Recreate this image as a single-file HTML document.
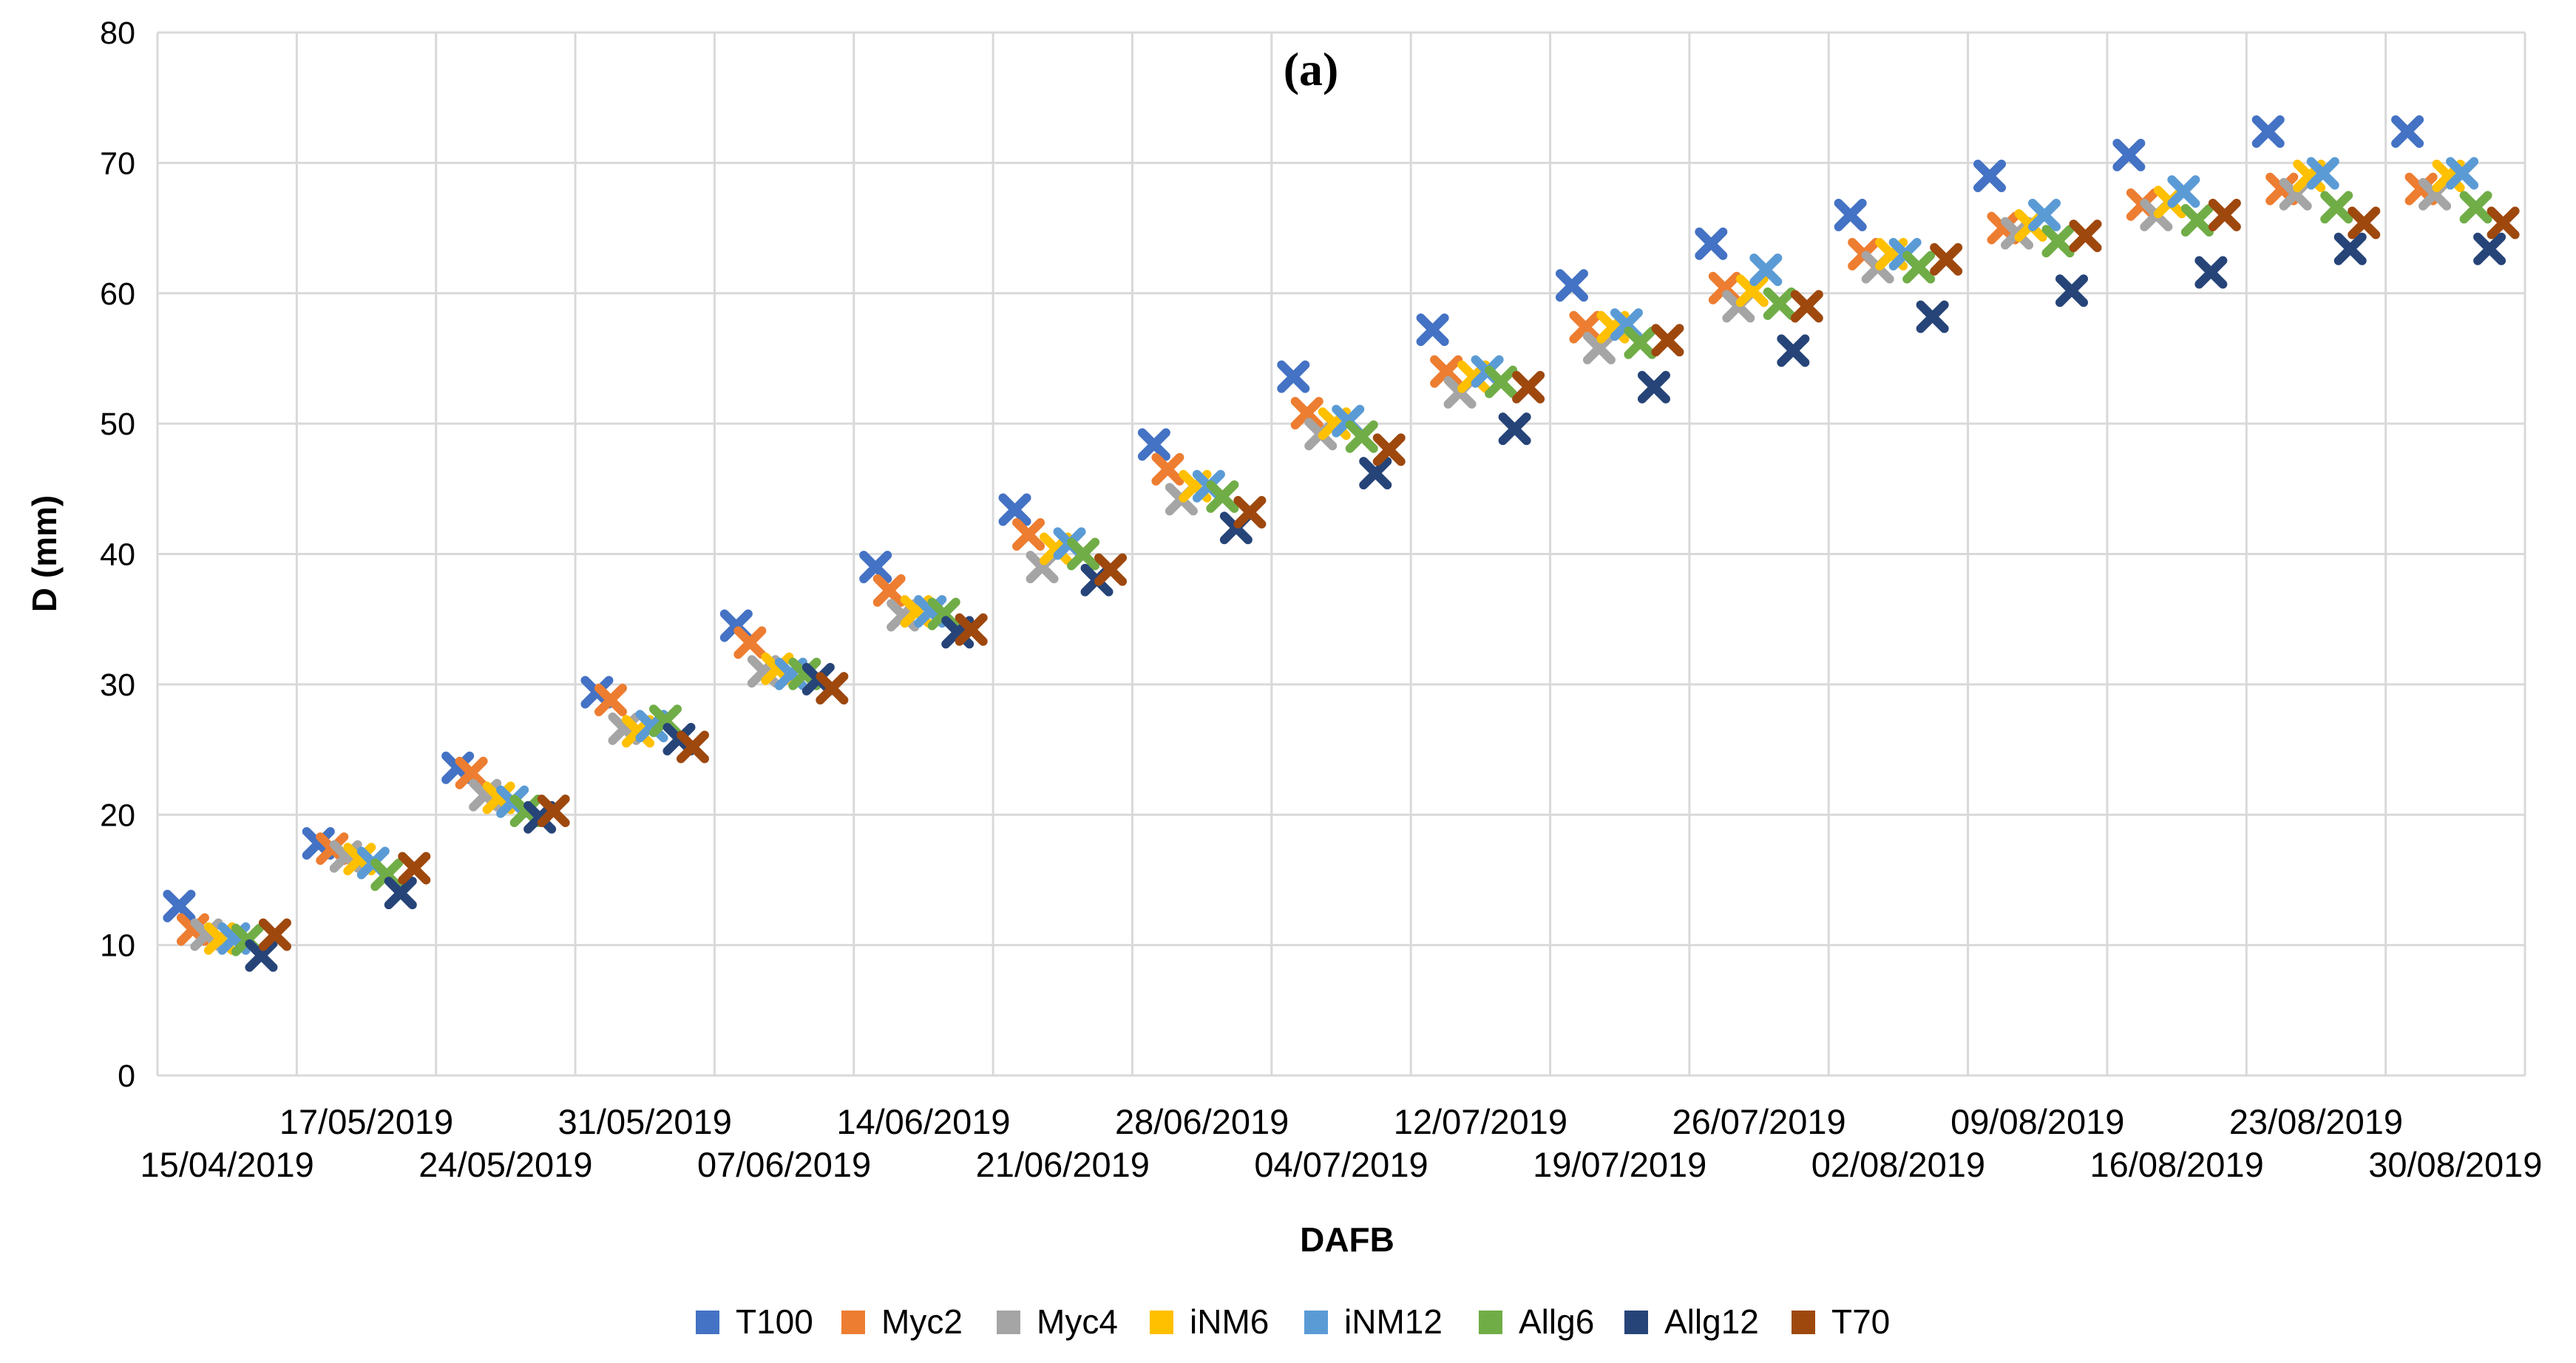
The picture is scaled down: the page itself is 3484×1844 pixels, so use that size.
<!DOCTYPE html>
<html><head><meta charset="utf-8"><style>
html,body{margin:0;padding:0;background:#fff;}
svg{display:block;font-family:"Liberation Sans",sans-serif;}
</style></head><body>
<svg id="chart" width="3484" height="1844" viewBox="0 0 3484 1844" xmlns="http://www.w3.org/2000/svg">
<rect x="0" y="0" width="3484" height="1844" fill="#fff"/>
<g id="grid"></g>
<g id="yticks"></g>
<g id="xticks"></g>
<g id="marks"></g>
<text x="1773" y="115" text-anchor="middle" font-family="Liberation Serif, serif" font-weight="bold" font-size="64">(a)</text>
<text transform="translate(76,749) rotate(-90)" text-anchor="middle" font-weight="bold" font-size="46">D (mm)</text>
<text x="1822" y="1693" text-anchor="middle" font-weight="bold" font-size="46">DAFB</text>
<g id="legend"></g>
</svg>
<script>
const categories=["15/04/2019","17/05/2019","24/05/2019","31/05/2019","07/06/2019","14/06/2019","21/06/2019","28/06/2019","04/07/2019","12/07/2019","19/07/2019","26/07/2019","02/08/2019","09/08/2019","16/08/2019","23/08/2019","30/08/2019"];
const seriesNames=["T100","Myc2","Myc4","iNM6","iNM12","Allg6","Allg12","T70"];
const seriesColors=["#4472C4","#ED7D31","#A5A5A5","#FFC000","#5B9BD5","#70AD47","#264478","#9E480E"];
const T100=[13,17.8,23.6,29.4,34.5,39,43.4,48.4,53.6,57.2,60.6,63.8,66,69,70.6,72.4,72.4];
const Myc2=[11.2,17.4,23.2,28.8,33.2,37.2,41.5,46.5,50.8,54,57.4,60.4,63,65,66.8,68,68];
const Myc4=[10.8,16.8,21.5,26.6,31,35.3,39,44.2,49.2,52.4,55.8,59,62,64.6,66,67.6,67.6];
const iNM6=[10.5,16.6,21.3,26.4,31.2,35.6,40.4,45.2,50,53.6,57.4,60.2,63,65.2,67,69,69];
const iNM12=[10.5,16.3,21,26.8,30.8,35.6,40.8,45.2,50.2,54,57.6,61.8,63,66,67.8,69.2,69.2];
const Allg6=[10.4,15.4,20.3,27.2,30.8,35.4,40,44.4,49,53.2,56.2,59.2,62,64,65.6,66.6,66.6];
const Allg12=[9.2,14,19.8,25.8,30.4,34,38,42,46.2,49.6,52.8,55.6,58.2,60.2,61.6,63.4,63.4];
const T70=[10.8,15.9,20.3,25.2,29.7,34.2,38.8,43.2,48,52.8,56.4,59,62.6,64.4,66,65.4,65.4];
const yTicks=[0,10,20,30,40,50,60,70,80];

const series=[T100,Myc2,Myc4,iNM6,iNM12,Allg6,Allg12,T70];
const NS="http://www.w3.org/2000/svg";
const L=213,R=3415,T=44,B=1455,yMax=80;
const bw=(R-L)/categories.length;
function yS(v){return B-(v/yMax)*(B-T);}
function xS(ci,si){return L+(ci+0.5)*bw+(si-3.5)*18.5;}
function mk(tag,attrs,parent){const e=document.createElementNS(NS,tag);for(const k in attrs)e.setAttribute(k,attrs[k]);parent.appendChild(e);return e;}
const grid=document.getElementById('grid'),yt=document.getElementById('yticks'),xt=document.getElementById('xticks'),marks=document.getElementById('marks'),leg=document.getElementById('legend');
yTicks.forEach(v=>{
  const l=mk('line',{x1:L,x2:R,y1:yS(v),y2:yS(v),stroke:'#d9d9d9','stroke-width':3},grid);
  
  
  const t=mk('text',{x:183,y:yS(v)+15,'text-anchor':'end','font-size':43,fill:'#000'},yt);
  t.textContent=v;
  
  
});
for(let i=0;i<=categories.length;i++){
  const x=L+i*bw;
  const l=mk('line',{x1:x,x2:x,y1:T,y2:B,stroke:'#d9d9d9','stroke-width':3},grid);
  
  
}
categories.forEach((c,i)=>{
  const t=mk('text',{x:L+(i+0.5)*bw,y:(i%2===0)?1592:1534,'text-anchor':'middle','font-size':47,fill:'#000'},xt);
  t.textContent=c;
  
  
});
series.forEach((arr,si)=>{
  arr.forEach((v,ci)=>{
    const cx=xS(ci,si),cy=yS(v),h=16;
    const p=mk('path',{d:`M${cx-h} ${cy-h}L${cx+h} ${cy+h}M${cx-h} ${cy+h}L${cx+h} ${cy-h}`,stroke:seriesColors[si],'stroke-width':12,'stroke-linecap':'round',fill:'none'},marks);
    
    
  });
});
const legX=[941,1138,1348,1555,1764,2000,2197,2423];
seriesNames.forEach((n,si)=>{
  const g=mk('g',{},leg);
  
  
  mk('rect',{x:legX[si],y:1773,width:32,height:32,fill:seriesColors[si]},g);
  const t=mk('text',{x:legX[si]+54,y:1804,'font-size':46,fill:'#000'},g);
  t.textContent=n;
});
</script>
</body></html>
